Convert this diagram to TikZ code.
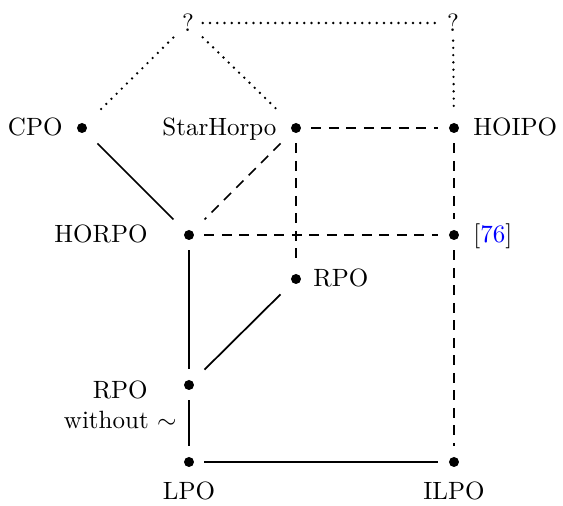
\documentclass[tikz,border=0pt]{standalone}
\usepackage{xcolor}
\begin{document}
\begin{tikzpicture}[x=0.4pt,y=-0.4pt,
  every node/.style={font=\normalsize},
  pt/.style={rectangle, minimum size=12pt, inner sep=0pt,
    path picture={\fill (path picture bounding box.center) circle (2pt);}},
  qm/.style={inner sep=3.33pt},
  lbl/.style={inner sep=0pt},
  solidline/.style={line width=0.7pt},
  dashline/.style={line width=0.7pt, dash pattern=on 4pt off 3pt},
  dotline/.style={line width=1.05pt, line cap=round, dash pattern=on 0pt off 2.9pt}]
  \useasboundingbox (0,0) rectangle (563,506);

  % points of the diagram
  \node[qm] (qa) at (188,23) {?};
  \node[qm] (qb) at (453,23) {?};
  \node[pt] (cpo) at (82,128) {};
  \node[pt] (star) at (296,128) {};
  \node[pt] (hoipo) at (454,128) {};
  \node[pt] (horpo) at (189,235) {};
  \node[pt] (ref) at (454,235) {};
  \node[pt] (rpo) at (296,279) {};
  \node[pt] (rpow) at (189,385) {};
  \node[pt] (lpo) at (189,462) {};
  \node[pt] (ilpo) at (454,462) {};

  % labels
  \node[lbl, anchor=base east] (tcpo) at (63,136) {CPO};
  \node[lbl, anchor=base east] (tstar) at (277,136) {StarHorpo};
  \node[lbl, anchor=base west] (thoipo) at (473,136) {HOIPO};
  \node[lbl, anchor=base east] (thorpo) at (148,243) {HORPO};
  \node[lbl, anchor=base west] (tref) at (473,243) {[\textcolor{blue}{76}]};
  \node[lbl, anchor=base west] (trpo) at (313,287) {RPO};
  \node[lbl, anchor=north east, align=center] (trpow) at (177,380) {RPO\\without $\sim$};
  \node[lbl, anchor=base] (tlpo) at (189,500) {LPO};
  \node[lbl, anchor=base] (tilpo) at (454,500) {ILPO};

  % dotted connectors
  \draw[dotline] (qa) -- (qb);
  \draw[dotline] (qa) -- (cpo);
  \draw[dotline] (qa) -- (star);
  \draw[dotline] (qb) -- (hoipo);

  % dashed connectors
  \draw[dashline] (star) -- (hoipo);
  \draw[dashline] (star) -- (horpo);
  \draw[dashline] (star) -- (rpo);
  \draw[dashline] (horpo) -- (ref);
  \draw[dashline] (hoipo) -- (ref);
  \draw[dashline] (ref) -- (ilpo);

  % solid connectors
  \draw[solidline] (cpo) -- (horpo);
  \draw[solidline] (horpo) -- (rpow);
  \draw[solidline] (rpo) -- (rpow);
  \draw[solidline] (rpow) -- (lpo);
  \draw[solidline] (lpo) -- (ilpo);
\end{tikzpicture}
\end{document}
